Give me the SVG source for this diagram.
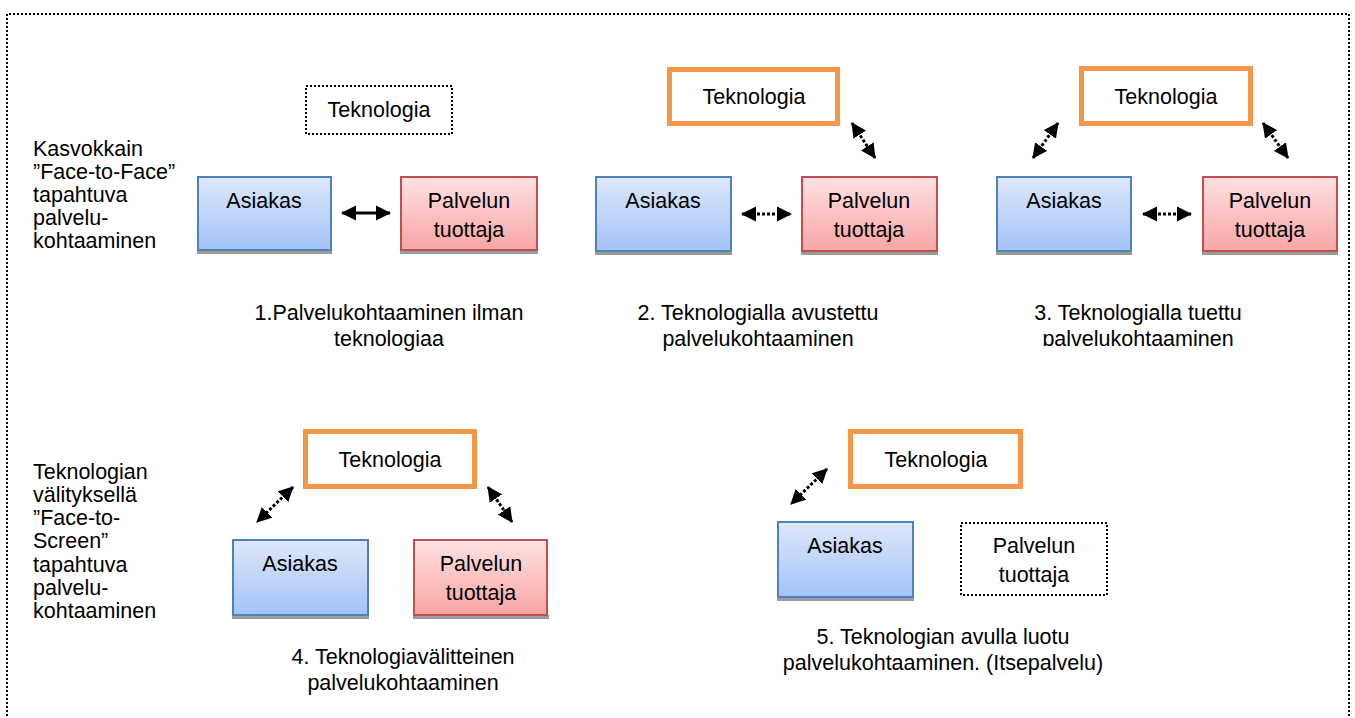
<svg xmlns="http://www.w3.org/2000/svg" width="1355" height="718" viewBox="0 0 1355 718">
<style>
text{font-family:"Liberation Sans",Arial,sans-serif;font-size:21.5px;fill:#000}
.c{text-anchor:middle}
.asi{fill:url(#gb);stroke:#4F81BD;stroke-width:2}
.pal{fill:url(#gr);stroke:#C0504D;stroke-width:2}
.sh{fill:#9a9a9a}
.tek{fill:#fff;stroke:#F79646;stroke-width:5}
.dot{fill:#fff;stroke:#000;stroke-width:2;stroke-dasharray:2 2}
.ar{stroke:#000;stroke-width:3;fill:none;marker-start:url(#ah);marker-end:url(#ah)}
.ard{stroke-dasharray:3 2}
</style>
<defs>
<linearGradient id="gb" x1="0" y1="0" x2="0" y2="1"><stop offset="0" stop-color="#DEE8FB"/><stop offset="1" stop-color="#A3C2F7"/></linearGradient>
<linearGradient id="gr" x1="0" y1="0" x2="0" y2="1"><stop offset="0" stop-color="#FFE1E1"/><stop offset="1" stop-color="#F8A5A5"/></linearGradient>
<marker id="ah" markerUnits="userSpaceOnUse" markerWidth="16" markerHeight="16" refX="14" refY="7.5" orient="auto-start-reverse" viewBox="0 0 16 15"><path d="M0,0 L15,7.5 L0,15 z" fill="#000"/></marker>
<clipPath id="cl3"><rect x="900" y="290" width="450" height="56"/></clipPath>
</defs>

<path id="frame" d="M7,720 V14 H1349 V720" fill="none" stroke="#000" stroke-width="2" stroke-dasharray="2 2"/>

<g id="labels">
<text x="33" y="156">Kasvokkain</text>
<text x="33" y="179">”Face-to-Face”</text>
<text x="33" y="202">tapahtuva</text>
<text x="33" y="225">palvelu-</text>
<text x="33" y="248">kohtaaminen</text>
<text x="33" y="479">Teknologian</text>
<text x="33" y="502">välityksellä</text>
<text x="33" y="525">”Face-to-</text>
<text x="33" y="548">Screen”</text>
<text x="33" y="572">tapahtuva</text>
<text x="33" y="595">palvelu-</text>
<text x="33" y="618">kohtaaminen</text>
</g>

<!-- Panel 1 -->
<g id="p1-tek"><rect class="dot" x="306" y="86" width="146" height="48"/><text class="c" x="379" y="117">Teknologia</text></g>
<g id="p1-asi"><rect class="sh" x="197" y="250" width="135" height="4"/><rect class="asi" x="198" y="177" width="133" height="73"/><text class="c" x="264" y="208">Asiakas</text></g>
<g id="p1-pal"><rect class="sh" x="400" y="250" width="138" height="4"/><rect class="pal" x="401" y="177" width="136" height="73"/><text class="c" x="469" y="208">Palvelun</text><text class="c" x="469" y="237">tuottaja</text></g>
<g id="p1-cap"><text class="c" x="389" y="320">1.Palvelukohtaaminen ilman</text><text class="c" x="389" y="346">teknologiaa</text></g>

<!-- Panel 2 -->
<g id="p2-tek"><rect class="tek" x="669.5" y="69.5" width="168" height="54"/><text class="c" x="754" y="104">Teknologia</text></g>
<g id="p2-asi"><rect class="sh" x="595" y="251" width="137" height="4"/><rect class="asi" x="596" y="177" width="135" height="74"/><text class="c" x="663" y="208">Asiakas</text></g>
<g id="p2-pal"><rect class="sh" x="801" y="251" width="137" height="4"/><rect class="pal" x="802" y="177" width="135" height="74"/><text class="c" x="869" y="208">Palvelun</text><text class="c" x="869" y="237">tuottaja</text></g>
<g id="p2-cap"><text class="c" x="758" y="320">2. Teknologialla avustettu</text><text class="c" x="758" y="346">palvelukohtaaminen</text></g>

<!-- Panel 3 -->
<g id="p3-tek"><rect class="tek" x="1081.5" y="68.5" width="169" height="55"/><text class="c" x="1166" y="104">Teknologia</text></g>
<g id="p3-asi"><rect class="sh" x="996" y="251" width="136" height="4"/><rect class="asi" x="997" y="177" width="134" height="74"/><text class="c" x="1064" y="208">Asiakas</text></g>
<g id="p3-pal"><rect class="sh" x="1202" y="251" width="136" height="4"/><rect class="pal" x="1203" y="177" width="134" height="74"/><text class="c" x="1270" y="208">Palvelun</text><text class="c" x="1270" y="237">tuottaja</text></g>
<g id="p3-cap" clip-path="url(#cl3)"><text class="c" x="1138" y="320">3. Teknologialla tuettu</text><text class="c" x="1138" y="346">palvelukohtaaminen</text></g>

<!-- Panel 4 -->
<g id="p4-tek"><rect class="tek" x="305.5" y="431.5" width="169" height="55"/><text class="c" x="390" y="467">Teknologia</text></g>
<g id="p4-asi"><rect class="sh" x="232" y="615" width="137" height="4"/><rect class="asi" x="233" y="540" width="135" height="75"/><text class="c" x="300" y="571">Asiakas</text></g>
<g id="p4-pal"><rect class="sh" x="413" y="615" width="136" height="4"/><rect class="pal" x="414" y="540" width="133" height="75"/><text class="c" x="481" y="571">Palvelun</text><text class="c" x="481" y="600">tuottaja</text></g>
<g id="p4-cap"><text class="c" x="403" y="664">4. Teknologiavälitteinen</text><text class="c" x="403" y="690">palvelukohtaaminen</text></g>

<!-- Panel 5 -->
<g id="p5-tek"><rect class="tek" x="850.5" y="431.5" width="170" height="55"/><text class="c" x="936" y="467">Teknologia</text></g>
<g id="p5-asi"><rect class="sh" x="777" y="597" width="137" height="4"/><rect class="asi" x="778" y="522" width="135" height="75"/><text class="c" x="845" y="553">Asiakas</text></g>
<g id="p5-pal"><rect class="dot" x="961" y="523" width="146" height="72"/><text class="c" x="1034" y="553">Palvelun</text><text class="c" x="1034" y="582">tuottaja</text></g>
<g id="p5-cap"><text class="c" x="943" y="644">5. Teknologian avulla luotu</text><text class="c" x="943" y="670">palvelukohtaaminen. (Itsepalvelu)</text></g>

<g id="connectors">
<line class="ar" x1="342" y1="213" x2="390" y2="213"/>
<line class="ar ard" x1="742" y1="214" x2="791" y2="214"/>
<line class="ar ard" x1="852" y1="123" x2="875" y2="158"/>
<line class="ar ard" x1="1143" y1="214" x2="1191" y2="214"/>
<line class="ar ard" x1="1058" y1="123" x2="1033" y2="158"/>
<line class="ar ard" x1="1263" y1="123" x2="1288" y2="158"/>
<line class="ar ard" x1="293" y1="487" x2="257" y2="522"/>
<line class="ar ard" x1="488" y1="487" x2="512" y2="522"/>
<line class="ar ard" x1="827" y1="469" x2="791" y2="504"/>
</g>
</svg>
